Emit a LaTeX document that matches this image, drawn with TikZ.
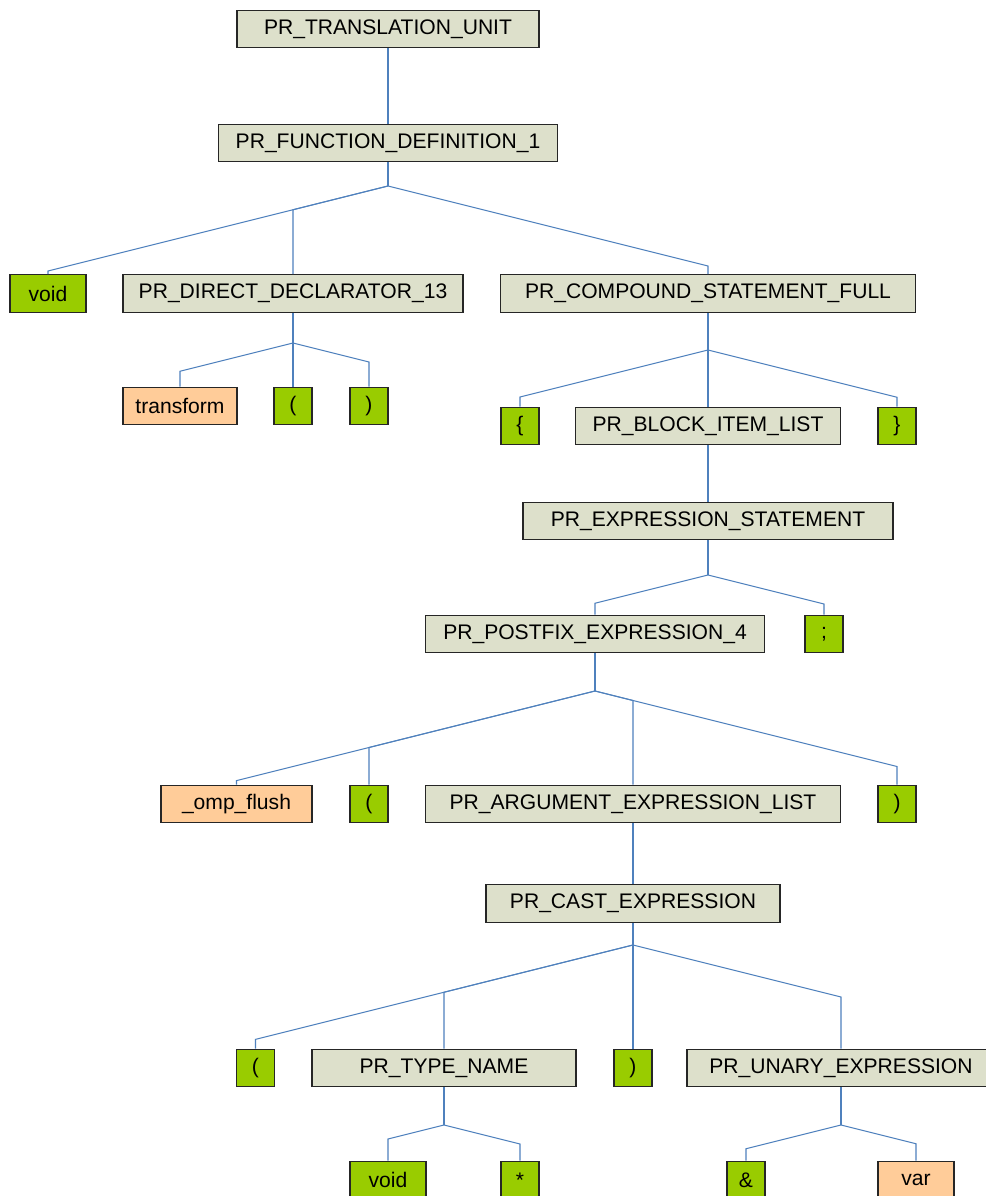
\documentclass[tikz,border=0pt]{standalone}
\usepackage{fontspec}
\setmainfont{Liberation Sans}
\usepackage{tikz}
\usetikzlibrary{calc}

\definecolor{ntfill}{HTML}{DDE0CB}
\definecolor{tkfill}{HTML}{99CC00}
\definecolor{idfill}{HTML}{FFCC99}
\definecolor{linkblue}{HTML}{4F81BD}

\begin{document}
\begin{tikzpicture}[x=0.02cm, y=-0.02cm,
    box/.style={draw=black!85, line width=0.6pt, minimum height=0.75cm, minimum width=#1*0.02cm, inner sep=0, font=\fontsize{12}{14}\selectfont},
    nt/.style={box=#1, fill=ntfill},
    tk/.style={box=#1, fill=tkfill},
    id/.style={box=#1, fill=idfill},
    link/.style={draw=linkblue, line width=0.6pt},
    trunk/.style={draw=linkblue, line width=0.9pt},
    branch/.style={to path={let \p1=(\tikztostart), \p2=(\tikztotarget.north) in
        -- (\x2, {\y1-0.25*abs(\x2-\x1)}) -- (\p2)}}]
        \fill[white] (0,0) rectangle (986,1196);
        \useasboundingbox (0,0) rectangle (986,1196);

        \node (tu) [nt=302] at (388, 29) {PR\_TRANSLATION\_UNIT};
        \node (fd) [nt=339] at (388, 143) {PR\_FUNCTION\_DEFINITION\_1};

        \node (void1) [tk=76] at (48, 293.5) {void};
        \node (dd) [nt=340] at (293, 293.5) {PR\_DIRECT\_DECLARATOR\_13};
        \node (csf) [nt=415] at (708, 293.5) {PR\_COMPOUND\_STATEMENT\_FULL};

        \node (tr) [id=114] at (180, 406) {transform};
        \node (lp1) [tk=38] at (293, 406) {(};
        \node (rp1) [tk=38] at (369, 406) {)};

        \node (lb) [tk=38] at (520, 426) {\{};
        \node (bli) [nt=265] at (708, 426) {PR\_BLOCK\_ITEM\_LIST};
        \node (rb) [tk=38] at (897, 426) {\}};

        \node (es) [nt=370] at (708, 521) {PR\_EXPRESSION\_STATEMENT};

        \node (pf) [nt=339] at (595, 634) {PR\_POSTFIX\_EXPRESSION\_4};
        \node (semi) [tk=38] at (824, 634) {;};

        \node (omp) [id=151] at (236.5, 804) {\_omp\_flush};
        \node (lp2) [tk=38] at (369, 804) {(};
        \node (arg) [nt=415] at (633, 804) {PR\_ARGUMENT\_EXPRESSION\_LIST};
        \node (rp2) [tk=38] at (897, 804) {)};

        \node (cast) [nt=294] at (633, 903.5) {PR\_CAST\_EXPRESSION};

        \node (lp3) [tk=38] at (255.5, 1068) {(};
        \node (tn) [nt=264] at (444, 1068) {PR\_TYPE\_NAME};
        \node (rp3) [tk=38] at (633, 1068) {)};
        \node (ue) [nt=308] at (841, 1068) {PR\_UNARY\_EXPRESSION};

        \node (void2) [tk=76] at (388, 1180) {void};
        \node (star) [tk=38] at (520, 1180) {*};
        \node (amp) [tk=38] at (746, 1180) {\&};
        \node (var) [id=76] at (916, 1180) {var};

        % fork points under the parents
        \coordinate (j1) at (388, 186);
        \coordinate (j2) at (293, 343);
        \coordinate (j3) at (708, 350);
        \coordinate (j4) at (708, 575);
        \coordinate (j5) at (595, 691);
        \coordinate (j6) at (633, 945);
        \coordinate (j7) at (444, 1125);
        \coordinate (j8) at (841, 1125);

        \path[trunk]
        (tu) edge (fd)
        (bli) edge (es)
        (arg) edge (cast)
        (fd) edge (j1)
        (dd) edge (j2)
        (csf) edge (j3)
        (es) edge (j4)
        (pf) edge (j5)
        (cast) edge (j6)
        (tn) edge (j7)
        (ue) edge (j8)
        ;

        \path[link]
        (j1) edge[branch] (void1) edge[branch] (dd) edge[branch] (csf)
        (j2) edge[branch] (tr) edge[branch] (lp1) edge[branch] (rp1)
        (j3) edge[branch] (lb) edge[branch] (bli) edge[branch] (rb)
        (j4) edge[branch] (pf) edge[branch] (semi)
        (j5) edge[branch] (omp) edge[branch] (lp2) edge[branch] (arg) edge[branch] (rp2)
        (j6) edge[branch] (lp3) edge[branch] (tn) edge[branch] (rp3) edge[branch] (ue)
        (j7) edge[branch] (void2) edge[branch] (star)
        (j8) edge[branch] (amp) edge[branch] (var)
        ;
      \end{tikzpicture}
\end{document}
